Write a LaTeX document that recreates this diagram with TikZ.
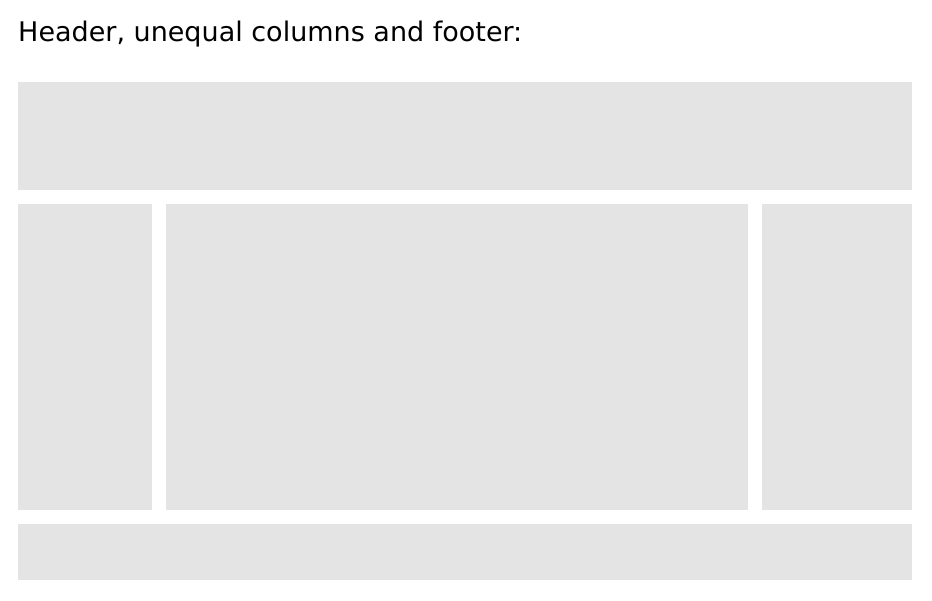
\documentclass[tikz,border=0pt]{standalone}
\usepackage{fontspec}
\setmainfont{DejaVu Sans}
\usepackage{xcolor}
\usetikzlibrary{positioning}
\definecolor{panelgray}{RGB}{228,228,228}

\begin{document}
\begin{tikzpicture}[
    x=1pt, y=1pt,
    node distance = 14pt,
    panel/.style = {fill=panelgray, draw=none, inner sep=0pt, outer sep=0pt},
    caption/.style = {font=\fontsize{27}{32}\selectfont, inner sep=0pt, anchor=base west},
]
\useasboundingbox (0,0) rectangle (932,-600);

% Title
\node[caption] (title) at (18,-41) {Header, unequal columns and footer:};

% Header
\node[panel, minimum width=894pt, minimum height=108pt, anchor=north west] (hdr) at (18,-82) {};

% Columns
\node[panel, minimum width=134pt, minimum height=306pt, below=of hdr.south west, anchor=north west] (left) {};
\node[panel, minimum width=582pt, minimum height=306pt, right=of left] (mid) {};
\node[panel, minimum width=150pt, minimum height=306pt, right=of mid] (right) {};

% Footer
\node[panel, minimum width=894pt, minimum height=56pt, below=of left.south west, anchor=north west] (ftr) {};

\end{tikzpicture}
\end{document}
